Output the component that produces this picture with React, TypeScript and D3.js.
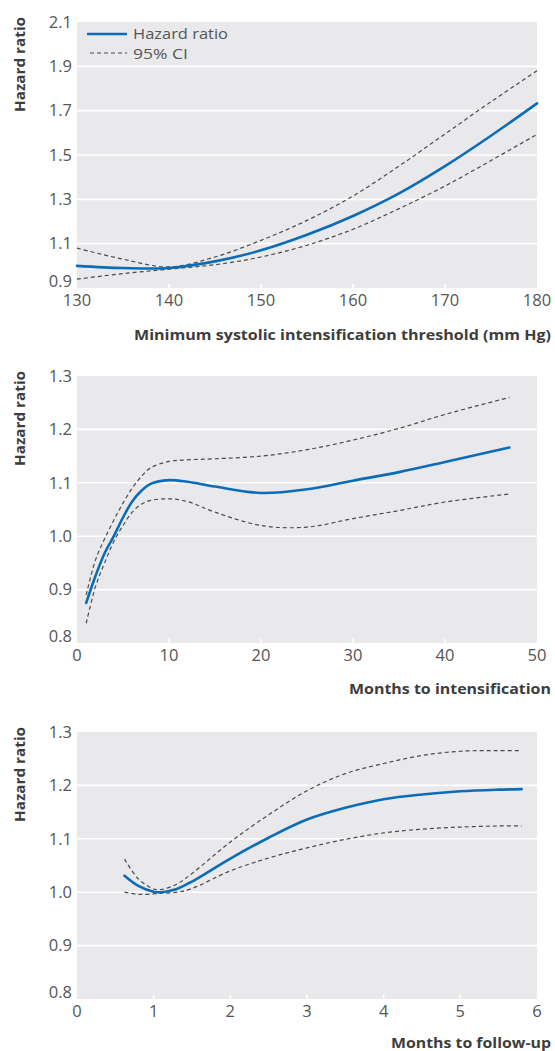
import React from "react";
import * as d3 from "d3";

// ---------- Data ----------
// Panel 1: minimum systolic intensification threshold
const p1X = [130, 135, 140, 145, 150, 155, 160, 165, 170, 175, 180];
const p1HR = [1.0, 0.99, 0.99, 1.02, 1.07, 1.14, 1.225, 1.327, 1.45, 1.587, 1.733];
const p1Up = [1.08, 1.03, 0.995, 1.04, 1.115, 1.205, 1.315, 1.45, 1.595, 1.74, 1.88];
const p1Lo = [0.94, 0.965, 0.985, 1.005, 1.04, 1.093, 1.165, 1.258, 1.36, 1.475, 1.593];
const p1XTicks = [130, 140, 150, 160, 170, 180];
const p1YTicks = [0.9, 1.1, 1.3, 1.5, 1.7, 1.9, 2.1];

// Panel 2: months to intensification
const p2X = [1, 2, 3, 4, 5, 6, 7, 8, 10, 12, 15, 20, 25, 30, 35, 40, 47];
const p2HR = [0.875, 0.925, 0.968, 1.0, 1.035, 1.065, 1.085, 1.098, 1.105, 1.102, 1.093, 1.081, 1.088, 1.104, 1.12, 1.139, 1.166];
const p2Up = [0.89, 0.955, 0.995, 1.03, 1.062, 1.09, 1.112, 1.128, 1.14, 1.143, 1.145, 1.15, 1.162, 1.18, 1.202, 1.228, 1.26];
const p2Lo = [0.837, 0.905, 0.95, 0.99, 1.02, 1.045, 1.06, 1.067, 1.07, 1.065, 1.045, 1.02, 1.017, 1.033, 1.048, 1.064, 1.079];
const p2XTicks = [0, 10, 20, 30, 40, 50];
const p2YTicks = [0.8, 0.9, 1.0, 1.1, 1.2, 1.3];

// Panel 3: months to follow-up
const p3X = [0.62, 0.8, 1.0, 1.1, 1.3, 1.5, 2.0, 2.5, 3.0, 3.5, 4.0, 4.5, 5.0, 5.5, 5.8];
const p3HR = [1.031, 1.012, 1.001, 1.0, 1.006, 1.02, 1.063, 1.102, 1.136, 1.158, 1.174, 1.183, 1.189, 1.192, 1.193];
const p3Up = [1.062, 1.025, 1.006, 1.005, 1.015, 1.035, 1.094, 1.145, 1.19, 1.222, 1.241, 1.256, 1.264, 1.265, 1.265];
const p3Lo = [1.0, 0.996, 0.997, 0.998, 1.0, 1.007, 1.04, 1.064, 1.083, 1.099, 1.111, 1.118, 1.122, 1.124, 1.124];
const p3XTicks = [0, 1, 2, 3, 4, 5, 6];
const p3YTicks = [0.8, 0.9, 1.0, 1.1, 1.2, 1.3];

const xTitles = [
  "Minimum systolic intensification threshold (mm Hg)",
  "Months to intensification",
  "Months to follow-up",
];
const yTitle = "Hazard ratio";
const legendLabels = ["Hazard ratio", "95% CI"];

// ---------- Style ----------
const FONT = "'Open Sans', sans-serif";
const BG = "#e9e9ec";
const BLUE = "#0b6db7";
const DASH = "#4a4a4a";
const TICK = "#555555";
const TITLE = "#3d3d3d";

const LEFT = 77;
const RIGHT = 537;

interface PanelSpec {
  top: number;
  bottom: number;
  xDomain: [number, number];
  yDomain: [number, number];
  xs: number[];
  hr: number[];
  up: number[];
  lo: number[];
  xTicks: number[];
  yTicks: number[];
  yFmt: (v: number) => string;
  title: string;
  titleWidth: number;
  titleBase: number;
  legend?: boolean;
}

const panels: PanelSpec[] = [
  {
    top: 22, bottom: 288, xDomain: [130, 180], yDomain: [0.9, 2.1],
    xs: p1X, hr: p1HR, up: p1Up, lo: p1Lo, xTicks: p1XTicks, yTicks: p1YTicks,
    yFmt: d3.format(".1f"), title: xTitles[0], titleWidth: 417, titleBase: 340, legend: true,
  },
  {
    top: 376, bottom: 643, xDomain: [0, 50], yDomain: [0.8, 1.3],
    xs: p2X, hr: p2HR, up: p2Up, lo: p2Lo, xTicks: p2XTicks, yTicks: p2YTicks,
    yFmt: d3.format(".1f"), title: xTitles[1], titleWidth: 202, titleBase: 694,
  },
  {
    top: 732, bottom: 999, xDomain: [0, 6], yDomain: [0.8, 1.3],
    xs: p3X, hr: p3HR, up: p3Up, lo: p3Lo, xTicks: p3XTicks, yTicks: p3YTicks,
    yFmt: d3.format(".1f"), title: xTitles[2], titleWidth: 160, titleBase: 1048,
  },
];

function Panel({ p }: { p: PanelSpec }) {
  const x = d3.scaleLinear().domain(p.xDomain).range([LEFT, RIGHT]);
  const y = d3.scaleLinear().domain(p.yDomain).range([p.bottom, p.top]);
  const line = (vals: number[]) =>
    d3
      .line<number>()
      .x((_, i) => x(p.xs[i]))
      .y((v) => y(v))
      .curve(d3.curveCatmullRom.alpha(0.5))(vals) || "";
  const [y0, y1] = p.yDomain;
  const [x0, x1] = p.xDomain;
  const eps = 1e-9;
  return (
    <g>
      <rect x={LEFT} y={p.top} width={RIGHT - LEFT} height={p.bottom - p.top} fill={BG} />
      {p.yTicks
        .filter((t) => t > y0 + eps && t < y1 - eps)
        .map((t) => (
          <line key={"g" + t} x1={LEFT} x2={RIGHT} y1={y(t)} y2={y(t)} stroke="#ffffff" strokeWidth={1.6} />
        ))}
      {p.xTicks
        .filter((t) => t > x0 + eps && t < x1 - eps)
        .map((t) => (
          <line key={"xt" + t} x1={x(t)} x2={x(t)} y1={p.bottom} y2={p.bottom - 4} stroke="#ffffff" strokeWidth={1.6} />
        ))}
      <path d={line(p.up)} fill="none" stroke={DASH} strokeWidth={1.2} strokeDasharray="4 3" />
      <path d={line(p.lo)} fill="none" stroke={DASH} strokeWidth={1.2} strokeDasharray="4 3" />
      <path d={line(p.hr)} fill="none" stroke={BLUE} strokeWidth={2.6} strokeLinecap="round" />
      {p.yTicks.map((t, i) => (
        <text
          key={"yl" + t}
          x={72}
          y={y(t) + (i === 0 ? -7 : 0)}
          dy="0.35em"
          textAnchor="end"
          fontFamily={FONT}
          fontSize={16.5}
          fill={TICK}
        >
          {p.yFmt(t)}
        </text>
      ))}
      {p.xTicks.map((t) => (
        <text
          key={"xl" + t}
          x={x(t)}
          y={p.bottom + 18}
          textAnchor="middle"
          fontFamily={FONT}
          fontSize={16.5}
          fill={TICK}
        >
          {t}
        </text>
      ))}
      <text
        x={551}
        y={p.titleBase}
        textAnchor="end"
        fontFamily={FONT}
        fontWeight={700}
        fontSize={15}
        fill={TITLE}
        textLength={p.titleWidth}
        lengthAdjust="spacingAndGlyphs"
      >
        {p.title}
      </text>
      <text
        transform={`translate(${25},${p.top - 5}) rotate(-90)`}
        textAnchor="end"
        fontFamily={FONT}
        fontWeight={700}
        fontSize={15}
        fill={TITLE}
        textLength={95}
        lengthAdjust="spacingAndGlyphs"
      >
        {yTitle}
      </text>
      {p.legend && (
        <g>
          <line x1={87} x2={127} y1={34} y2={34} stroke={BLUE} strokeWidth={2.6} />
          <text x={133} y={33.5} dy="0.35em" fontFamily={FONT} fontSize={14.5} fill={TICK} textLength={95} lengthAdjust="spacingAndGlyphs">
            {legendLabels[0]}
          </text>
          <line x1={90} x2={127} y1={53} y2={53} stroke={DASH} strokeWidth={1.2} strokeDasharray="4 3" />
          <text x={133} y={53.5} dy="0.35em" fontFamily={FONT} fontSize={14.5} fill={TICK} textLength={55} lengthAdjust="spacingAndGlyphs">
            {legendLabels[1]}
          </text>
        </g>
      )}
    </g>
  );
}

export default function App() {
  return (
    <svg
      width={555}
      height={1051}
      style={{ position: "absolute", left: 0, top: 0, background: "#ffffff" }}
    >
      {panels.map((p, i) => (
        <Panel key={i} p={p} />
      ))}
    </svg>
  );
}
